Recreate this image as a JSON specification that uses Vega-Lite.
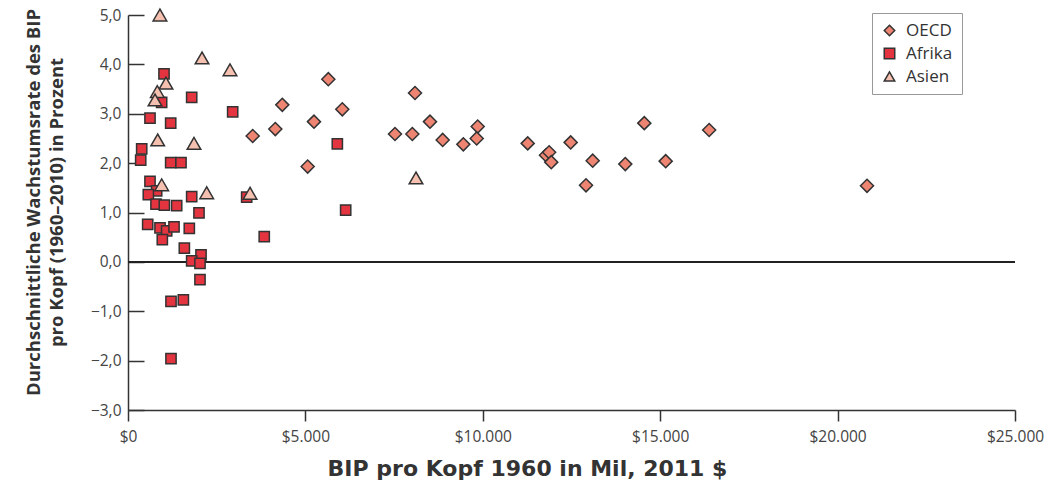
{
  "$schema": "https://vega.github.io/schema/vega-lite/v6.json",
  "autosize": {"type": "none"},
  "width": 887,
  "height": 395,
  "padding": {"left": 128, "top": 15, "right": 45, "bottom": 72},
  "background": "white",
  "config": {
    "view": {"stroke": null},
    "font": "Open Sans",
    "locale": {
      "number": {
        "decimal": ",",
        "thousands": ".",
        "grouping": [3],
        "currency": ["$", ""],
        "minus": "\u2212"
      }
    }
  },
  "data": {
    "values": [
      {"g": "OECD", "x": 3514, "y": 2.55},
      {"g": "OECD", "x": 4152, "y": 2.69},
      {"g": "OECD", "x": 4349, "y": 3.18},
      {"g": "OECD", "x": 5064, "y": 1.93},
      {"g": "OECD", "x": 5242, "y": 2.84},
      {"g": "OECD", "x": 5646, "y": 3.70},
      {"g": "OECD", "x": 6040, "y": 3.09},
      {"g": "OECD", "x": 7525, "y": 2.59},
      {"g": "OECD", "x": 8014, "y": 2.59},
      {"g": "OECD", "x": 8089, "y": 3.42},
      {"g": "OECD", "x": 8512, "y": 2.84},
      {"g": "OECD", "x": 8869, "y": 2.47},
      {"g": "OECD", "x": 9451, "y": 2.38},
      {"g": "OECD", "x": 9856, "y": 2.74},
      {"g": "OECD", "x": 9828, "y": 2.50},
      {"g": "OECD", "x": 11266, "y": 2.40},
      {"g": "OECD", "x": 11780, "y": 2.16},
      {"g": "OECD", "x": 11870, "y": 2.22},
      {"g": "OECD", "x": 11930, "y": 2.02},
      {"g": "OECD", "x": 12477, "y": 2.42},
      {"g": "OECD", "x": 12909, "y": 1.55},
      {"g": "OECD", "x": 13097, "y": 2.05},
      {"g": "OECD", "x": 14016, "y": 1.98},
      {"g": "OECD", "x": 14552, "y": 2.81},
      {"g": "OECD", "x": 15155, "y": 2.04},
      {"g": "OECD", "x": 16380, "y": 2.67},
      {"g": "OECD", "x": 20829, "y": 1.54},
      {"g": "Afrika", "x": 1015, "y": 3.81},
      {"g": "Afrika", "x": 948, "y": 3.23},
      {"g": "Afrika", "x": 1795, "y": 3.33},
      {"g": "Afrika", "x": 2950, "y": 3.04},
      {"g": "Afrika", "x": 620, "y": 2.91},
      {"g": "Afrika", "x": 1203, "y": 2.81},
      {"g": "Afrika", "x": 386, "y": 2.29},
      {"g": "Afrika", "x": 358, "y": 2.06},
      {"g": "Afrika", "x": 1203, "y": 2.01},
      {"g": "Afrika", "x": 1494, "y": 2.01},
      {"g": "Afrika", "x": 620, "y": 1.63},
      {"g": "Afrika", "x": 808, "y": 1.44},
      {"g": "Afrika", "x": 573, "y": 1.36},
      {"g": "Afrika", "x": 789, "y": 1.17},
      {"g": "Afrika", "x": 1024, "y": 1.15},
      {"g": "Afrika", "x": 1372, "y": 1.14},
      {"g": "Afrika", "x": 1795, "y": 1.32},
      {"g": "Afrika", "x": 3345, "y": 1.31},
      {"g": "Afrika", "x": 5900, "y": 2.39},
      {"g": "Afrika", "x": 6135, "y": 1.05},
      {"g": "Afrika", "x": 3840, "y": 0.51},
      {"g": "Afrika", "x": 555, "y": 0.76},
      {"g": "Afrika", "x": 902, "y": 0.69},
      {"g": "Afrika", "x": 1090, "y": 0.63},
      {"g": "Afrika", "x": 1297, "y": 0.71},
      {"g": "Afrika", "x": 1728, "y": 0.68},
      {"g": "Afrika", "x": 967, "y": 0.45},
      {"g": "Afrika", "x": 2001, "y": 0.99},
      {"g": "Afrika", "x": 1588, "y": 0.28},
      {"g": "Afrika", "x": 2058, "y": 0.14},
      {"g": "Afrika", "x": 1795, "y": 0.02},
      {"g": "Afrika", "x": 2029, "y": -0.03},
      {"g": "Afrika", "x": 2029, "y": -0.36},
      {"g": "Afrika", "x": 1212, "y": -0.80},
      {"g": "Afrika", "x": 1560, "y": -0.77},
      {"g": "Afrika", "x": 1212, "y": -1.96},
      {"g": "Asien", "x": 900, "y": 5.0},
      {"g": "Asien", "x": 2086, "y": 4.13},
      {"g": "Asien", "x": 2875, "y": 3.89},
      {"g": "Asien", "x": 1070, "y": 3.62},
      {"g": "Asien", "x": 826, "y": 3.45},
      {"g": "Asien", "x": 761, "y": 3.28},
      {"g": "Asien", "x": 837, "y": 2.47},
      {"g": "Asien", "x": 1860, "y": 2.40},
      {"g": "Asien", "x": 950, "y": 1.56},
      {"g": "Asien", "x": 2218, "y": 1.40},
      {"g": "Asien", "x": 3440, "y": 1.39},
      {"g": "Asien", "x": 8117, "y": 1.70}
    ]
  },
  "layer": [
    {
      "mark": {"type": "rule", "color": "#222", "strokeWidth": 1.5},
      "encoding": {"y": {"datum": 0}}
    },
    {
      "encoding": {
        "x": {
          "field": "x", "type": "quantitative",
          "scale": {"domain": [0, 25000], "nice": false, "zero": false},
          "axis": {
            "title": "BIP pro Kopf 1960 in Mil, 2011 $",
            "values": [0, 5000, 10000, 15000, 20000, 25000],
            "format": "$,.0f",
            "grid": false,
            "labelFlush": false,
            "domainColor": "#333", "domainWidth": 1.5,
            "tickColor": "#333", "tickWidth": 1.5, "tickSize": 11,
            "labelFont": "Open Sans", "labelFontSize": 15.5, "labelColor": "#444", "labelPadding": 8,
            "titleFont": "DejaVu Sans", "titleFontSize": 22, "titleFontWeight": "bold", "titleColor": "#333",
            "titleX": 399, "titleY": 58, "titleBaseline": "middle", "titleAlign": "center"
          }
        },
        "y": {
          "field": "y", "type": "quantitative",
          "scale": {"domain": [-3, 5], "nice": false, "zero": false},
          "axis": {
            "title": ["Durchschnittliche Wachstumsrate des BIP", "pro Kopf (1960\u20132010) in Prozent"],
            "values": [-3, -2, -1, 0, 1, 2, 3, 4, 5],
            "format": ".1f",
            "grid": false,
            "labelFlush": false,
            "domainColor": "#333", "domainWidth": 1.5,
            "tickColor": "#333", "tickWidth": 1.5, "tickSize": -16,
            "labelFont": "Open Sans", "labelFontSize": 15.5, "labelColor": "#444", "labelPadding": 23,
            "titleFont": "Open Sans", "titleFontSize": 18.5, "titleFontWeight": "bold", "titleColor": "#333",
            "titleLineHeight": 23,
            "titleX": -95, "titleY": 187, "titleBaseline": "middle", "titleAlign": "center", "titleAngle": -90
          }
        },
        "color": {
          "field": "g", "type": "nominal",
          "scale": {"domain": ["OECD", "Afrika", "Asien"], "range": ["#EE8572", "#E4343F", "#F6C0B0"]},
          "legend": {
            "title": null, "orient": "none", "legendX": 744, "legendY": -2,
            "strokeColor": "#999", "fillColor": "white", "padding": 9,
            "labelFont": "Open Sans", "labelFontSize": 17, "labelColor": "#333",
            "symbolStrokeColor": "#333", "symbolStrokeWidth": 1.5, "symbolSize": 110,
            "rowPadding": 5, "labelOffset": 8
          }
        },
        "shape": {
          "field": "g", "type": "nominal",
          "scale": {"domain": ["OECD", "Afrika", "Asien"], "range": ["diamond", "square", "triangle-up"]}
        }
      },
      "layer": [
        {
          "transform": [{"filter": "datum.g === 'OECD'"}],
          "mark": {"type": "point", "filled": true, "opacity": 1, "stroke": "#333", "strokeWidth": 1.5, "size": 170}
        },
        {
          "transform": [{"filter": "datum.g === 'Afrika'"}],
          "mark": {"type": "point", "filled": true, "opacity": 1, "stroke": "#333", "strokeWidth": 1.5, "size": 105}
        },
        {
          "transform": [{"filter": "datum.g === 'Asien'"}],
          "mark": {"type": "point", "filled": true, "opacity": 1, "stroke": "#333", "strokeWidth": 1.5, "size": 185}
        }
      ]
    }
  ]
}
